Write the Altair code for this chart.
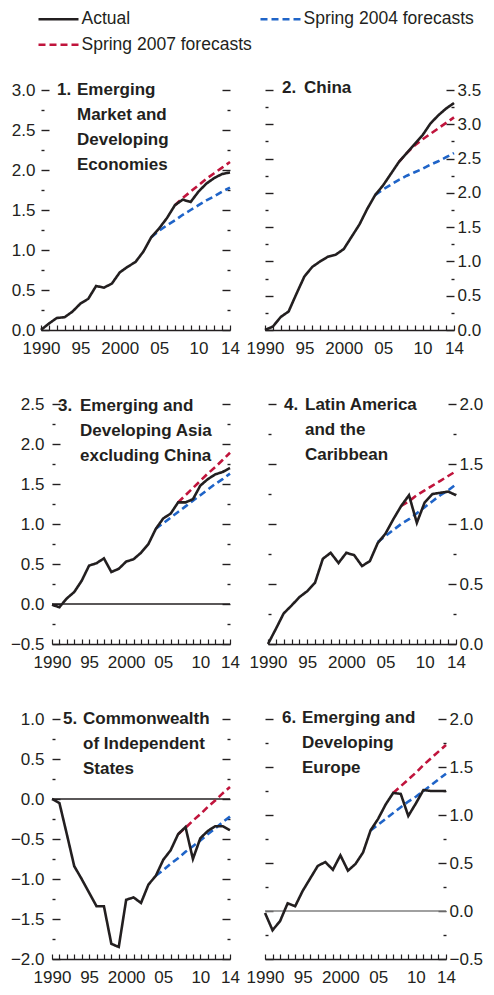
import altair as alt
import numpy as np
import pandas as pd

FONT = "Liberation Sans, Arial, sans-serif"
TXT = "#231f20"

YEARS = list(range(1990, 2015))
Y2004 = list(range(2004, 2015))
Y2007 = list(range(2007, 2015))
XLABELS = [1990, 1995, 2000, 2005, 2010, 2014]

# legend order (filled column by column): Actual, Spring 2007 | Spring 2004
SERIES = ["Actual", "Spring 2007 forecasts", "Spring 2004 forecasts"]
COLORS = ["#231f20", "#c0143c", "#1f64c8"]
DASHES = [[1, 0], [7, 4], [7, 4]]

TITLE_NUMS = ["1.", "2.", "3.", "4.", "5.", "6."]
TITLE_LINES = [
    ["Emerging", "Market and", "Developing", "Economies"],
    ["China"],
    ["Emerging and", "Developing Asia", "excluding China"],
    ["Latin America", "and the", "Caribbean"],
    ["Commonwealth", "of Independent", "States"],
    ["Emerging and", "Developing", "Europe"],
]

ACTUAL = [
    [0.00, 0.08, 0.15, 0.16, 0.23, 0.33, 0.39, 0.55, 0.53, 0.58, 0.72, 0.79, 0.85,
     0.98, 1.16, 1.27, 1.40, 1.56, 1.63, 1.60, 1.73, 1.83, 1.90, 1.95, 1.97],
    [0.00, 0.05, 0.19, 0.27, 0.53, 0.78, 0.92, 1.00, 1.07, 1.10, 1.18, 1.36, 1.54,
     1.77, 1.97, 2.11, 2.28, 2.45, 2.58, 2.71, 2.84, 3.01, 3.13, 3.23, 3.31],
    [-0.01, -0.04, 0.07, 0.15, 0.29, 0.48, 0.51, 0.57, 0.40, 0.44, 0.53, 0.56, 0.64,
     0.75, 0.94, 1.07, 1.13, 1.27, 1.27, 1.31, 1.48, 1.56, 1.62, 1.65, 1.70],
    [0.00, 0.125, 0.255, 0.32, 0.39, 0.44, 0.51, 0.71, 0.76, 0.675, 0.76, 0.74, 0.65,
     0.69, 0.84, 0.92, 1.04, 1.15, 1.24, 1.01, 1.18, 1.25, 1.26, 1.27, 1.24],
    [0.00, -0.05, -0.44, -0.84, -1.00, -1.17, -1.34, -1.34, -1.81, -1.85, -1.26, -1.23, -1.30,
     -1.07, -0.96, -0.76, -0.64, -0.44, -0.35, -0.75, -0.49, -0.40, -0.34, -0.34, -0.39],
    [-0.02, -0.20, -0.105, 0.08, 0.05, 0.21, 0.34, 0.47, 0.51, 0.43, 0.58, 0.42, 0.49,
     0.61, 0.84, 0.96, 1.11, 1.23, 1.22, 0.99, 1.12, 1.26, 1.25, 1.25, 1.25],
]

F2004 = [
    [1.16, 1.24, 1.31, 1.37, 1.44, 1.50, 1.56, 1.62, 1.67, 1.73, 1.78],
    [1.97, 2.05, 2.12, 2.19, 2.25, 2.30, 2.35, 2.41, 2.46, 2.52, 2.58],
    [0.94, 1.01, 1.08, 1.15, 1.22, 1.29, 1.36, 1.43, 1.50, 1.56, 1.63],
    [0.85, 0.90, 0.95, 1.00, 1.04, 1.09, 1.14, 1.19, 1.24, 1.28, 1.33],
    [-0.96, -0.89, -0.81, -0.74, -0.66, -0.59, -0.52, -0.44, -0.37, -0.29, -0.22],
    [0.84, 0.90, 0.96, 1.02, 1.08, 1.14, 1.19, 1.25, 1.31, 1.37, 1.43],
]

F2007 = [
    [1.56, 1.65, 1.73, 1.81, 1.89, 1.96, 2.03, 2.10],
    [2.45, 2.58, 2.69, 2.78, 2.86, 2.94, 3.02, 3.10],
    [1.27, 1.36, 1.45, 1.54, 1.63, 1.71, 1.80, 1.89],
    [1.15, 1.19, 1.24, 1.28, 1.32, 1.36, 1.40, 1.44],
    [-0.44, -0.36, -0.27, -0.19, -0.10, -0.02, 0.07, 0.15],
    [1.23, 1.30, 1.37, 1.44, 1.52, 1.59, 1.66, 1.73],
]

Y_DOMAINS = [(0.0, 3.0), (0.0, 3.5), (-0.5, 2.5), (0.0, 2.0), (-2.0, 1.0), (-0.5, 2.0)]
ZERO = [0.0]

# layout / style (not data)
H = 240
WIDTH = [189, 189, 189, 188, 189, 181]
X0 = [0, 0, 11, 0, 11, 0]
SIDE = ["left", "right", "left", "right", "left", "right"]
LPAD = [6, 3, 8, 3, 8, 3]
ZERO_COLOR = [None, None, "#231f20", None, "#231f20", "#808080"]
TX_NUM = [16, 17, 6, 16, 11, 17]
TX_BODY = [36, 39, 28, 37, 31, 37]
TY = [5, 3, 7, 6, 5, 4]
LAB_FS = 17
TITLE_FS = 17

LEG = alt.Legend(
    title=None, orient="none", legendX=-7, legendY=-82, columns=2,
    symbolType="M-1.25,0H6.75", symbolSize=100, symbolStrokeWidth=2.5,
    labelFont=FONT, labelFontSize=17.5, labelColor=TXT, labelOffset=28,
    labelLimit=400, rowPadding=7, columnPadding=3, padding=2,
)


def panel(k):
    W = WIDTH[k]
    x0 = X0[k]
    lo, hi = Y_DOMAINS[k]
    side = SIDE[k]
    xs = alt.Scale(domain=[1990, 2014], range=[x0, W], nice=False, zero=False)
    ys = alt.Scale(domain=[lo, hi], nice=False, zero=False)
    major = [round(float(v), 2) for v in np.arange(lo, hi + 1e-9, 0.5)]
    allt = [round(float(v), 2) for v in np.arange(lo, hi + 1e-9, 0.25)]

    tick_size = {"condition": {"test": "abs(datum.value*2 - round(datum.value*2)) < 0.001",
                               "value": 8}, "value": 3}

    ylab = alt.Axis(
        orient=side, values=major, format=".1f", ticks=False, tickSize=0, domain=False,
        grid=False, title=None, labelFont=FONT, labelFontSize=LAB_FS, labelColor=TXT,
        labelPadding=LPAD[k],
        offset=-x0 if side == "left" else 0,
        minExtent=(33 + x0) if side == "left" else 0,
    )
    ytick_l = alt.Axis(orient="right", offset=x0 - W, values=allt, labels=False, domain=False,
                       grid=False, title=None, tickSize=tick_size, tickWidth=1.4,
                       tickColor=TXT, minExtent=0)
    ytick_r = alt.Axis(orient="left", offset=-W, values=allt, labels=False, domain=False,
                       grid=False, title=None, tickSize=tick_size, tickWidth=1.4,
                       tickColor=TXT, minExtent=0)
    xlab = alt.Axis(
        orient="bottom", values=XLABELS, format="d",
        labelExpr="(datum.value == 1990 || datum.value == 2000) ? datum.label : substring(datum.label, 2)",
        ticks=False, tickSize=0, domain=False, grid=False, title=None,
        labelFont=FONT, labelFontSize=LAB_FS, labelColor=TXT, labelPadding=10,
        labelFlush=False, labelOverlap=False, labelBound=False,
    )
    xtick = alt.Axis(orient="top", offset=-H, values=YEARS, labels=False, domain=True,
                     domainColor=TXT, domainWidth=1.4, tickColor=TXT, tickWidth=1.2,
                     tickSize=5, grid=False, title=None, minExtent=0)

    color = alt.Color("series:N", scale=alt.Scale(domain=SERIES, range=COLORS), legend=LEG)
    dash = alt.StrokeDash("series:N", scale=alt.Scale(domain=SERIES, range=DASHES), legend=LEG)

    act = pd.DataFrame({"year": YEARS, "value": ACTUAL[k], "series": "Actual"})
    f04 = pd.DataFrame({"year": Y2004, "value": F2004[k], "series": "Spring 2004 forecasts"})
    f07 = pd.DataFrame({"year": Y2007, "value": F2007[k], "series": "Spring 2007 forecasts"})

    layers = []
    if ZERO_COLOR[k]:
        zdf = pd.DataFrame({"a": [YEARS[0]], "b": [YEARS[-1]], "z": ZERO})
        layers.append(
            alt.Chart(zdf).mark_rule(color=ZERO_COLOR[k], strokeWidth=1.3).encode(
                x=alt.X("a:Q", scale=xs, axis=None), x2="b:Q",
                y=alt.Y("z:Q", scale=ys, axis=None))
        )
    layers.append(
        alt.Chart(f07).mark_line(strokeWidth=2.6).encode(
            x=alt.X("year:Q", scale=xs, axis=None),
            y=alt.Y("value:Q", scale=ys, axis=ytick_r),
            color=color, strokeDash=dash)
    )
    layers.append(
        alt.Chart(f04).mark_line(strokeWidth=2.6).encode(
            x=alt.X("year:Q", scale=xs, axis=xtick),
            y=alt.Y("value:Q", scale=ys, axis=ytick_l),
            color=color, strokeDash=dash)
    )
    layers.append(
        alt.Chart(act).mark_line(strokeWidth=2.6).encode(
            x=alt.X("year:Q", scale=xs, axis=xlab),
            y=alt.Y("value:Q", scale=ys, axis=ylab),
            color=color, strokeDash=dash)
    )
    layers.append(
        alt.Chart(pd.DataFrame({"t": [TITLE_NUMS[k]]})).mark_text(
            font=FONT, fontSize=TITLE_FS, fontWeight="bold", color=TXT, align="left",
            baseline="alphabetic").encode(
            text="t:N", x=alt.value(x0 + TX_NUM[k]), y=alt.value(TY[k]))
    )
    layers.append(
        alt.Chart(pd.DataFrame({"p": [k]})).mark_text(
            text=TITLE_LINES[k], lineHeight=25, font=FONT, fontSize=TITLE_FS, fontWeight="bold",
            color=TXT, align="left", baseline="alphabetic").encode(
            x=alt.value(x0 + TX_BODY[k]), y=alt.value(TY[k]))
    )
    return alt.layer(*layers).resolve_axis(x="independent", y="independent").properties(
        width=W, height=H)


r1 = alt.hconcat(panel(0), panel(1), spacing=35, bounds="flush")
r2 = alt.hconcat(panel(2), panel(3), spacing=38, bounds="flush")
r3 = alt.hconcat(panel(4), panel(5), spacing=35, bounds="flush")

chart = alt.vconcat(r1, r2, r3, spacing=39).properties(padding=0).configure_view(stroke=None)

chart.save("out.html", embed_options={"renderer": "svg", "actions": False})
